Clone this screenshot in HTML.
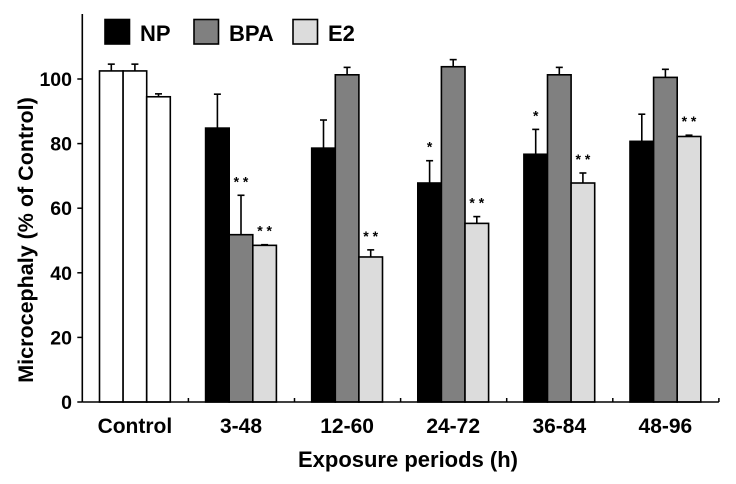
<!DOCTYPE html>
<html><head><meta charset="utf-8"><style>
body{margin:0;background:#fff}
svg text{font-family:"Liberation Sans",Arial,sans-serif;font-weight:bold;fill:#000}
</style></head><body>
<svg id="chart" width="736" height="479" viewBox="0 0 736 479" xmlns="http://www.w3.org/2000/svg"></svg>
<script>
const categories = ["Control","3-48","12-60","24-72","36-84","48-96"];
const seriesNames = ["NP","BPA","E2"];
const npValues  = [102.5, 84.8, 78.6, 67.8, 76.7, 80.7];
const bpaValues = [102.5, 51.8, 101.3, 103.8, 101.3, 100.5];
const e2Values  = [94.5, 48.5, 44.9, 55.3, 67.8, 82.2];
const npErr  = [2.1, 10.5, 8.7, 6.9, 7.7, 8.4];
const bpaErr = [2.1, 12.2, 2.3, 2.2, 2.3, 2.5];
const e2Err  = [0.9, 0.2, 2.2, 2.1, 3.1, 0.4];
const npSig  = ["", "", "", "*", "*", ""];
const bpaSig = ["", "* *", "", "", "", ""];
const e2Sig  = ["", "* *", "* *", "* *", "* *", "* *"];
const yTicks = [0,20,40,60,80,100];

const NS="http://www.w3.org/2000/svg";
const svg=document.getElementById('chart');
const x0=82.3, groupW=106.1, barOff=17.2, barW=23.6;
const yZero=402, pxPerUnit=3.23;
const yScale=v=>yZero-v*pxPerUnit;
const xBar=(g,s)=>x0+g*groupW+barOff+s*barW;
function mk(tag,attrs){const e=document.createElementNS(NS,tag);for(const k in attrs)e.setAttribute(k,attrs[k]);svg.appendChild(e);return e;}

const fills=["#000000","#808080","#dcdcdc"];
const vals=[npValues,bpaValues,e2Values], errs=[npErr,bpaErr,e2Err], sigs=[npSig,bpaSig,e2Sig];
for(let g=0;g<categories.length;g++){
  for(let s=0;s<3;s++){
    const v=vals[s][g], e=errs[s][g];
    const x=xBar(g,s), top=yScale(v), et=yScale(v+e), cx=x+barW/2;
    const er=mk('line',{x1:cx,y1:top,x2:cx,y2:et,stroke:'#000','stroke-width':1.6});
    
    
    const cap=mk('line',{x1:cx-3.5,y1:et,x2:cx+3.5,y2:et,stroke:'#000','stroke-width':1.6});
    
    
    const r=mk('rect',{x:x,y:top,width:barW,height:yZero-top,fill:g===0?'#fff':fills[s],stroke:'#000','stroke-width':1.6});
    
    
    if(sigs[s][g]){
      const t=mk('text',{x:cx,y:et-9,'text-anchor':'middle','font-size':14});
      t.textContent=sigs[s][g];
      
      
    }
  }
  const lbl=mk('text',{x:x0+g*groupW+barOff+1.5*barW,y:433,'text-anchor':'middle','font-size':21});
  lbl.textContent=categories[g];
  
  
  const tk=mk('line',{x1:x0+(g+1)*groupW,y1:yZero,x2:x0+(g+1)*groupW,y2:yZero-4,stroke:'#000','stroke-width':1.5});
  
  
}
for(const t of yTicks){
  const y=yScale(t);
  const l=mk('line',{x1:x0-5,y1:y,x2:x0,y2:y,stroke:'#000','stroke-width':1.5});
  
  
  const tx=mk('text',{x:72,y:y+7,'text-anchor':'end','font-size':19.5});
  tx.textContent=t;
  
  
}
const ya=mk('line',{x1:x0,y1:14,x2:x0,y2:yZero,stroke:'#000','stroke-width':1.6});


const xa=mk('line',{x1:x0,y1:yZero,x2:x0+6*groupW,y2:yZero,stroke:'#000','stroke-width':1.6});


const yt=mk('text',{x:0,y:0,'text-anchor':'middle','font-size':21.5,transform:'translate(33,240) rotate(-90)'});
yt.textContent='Microcephaly (% of Control)';


const xt=mk('text',{x:408,y:467,'text-anchor':'middle','font-size':22});
xt.textContent='Exposure periods (h)';


const legX=[105,194,293];
for(let s=0;s<3;s++){
  const b=mk('rect',{x:legX[s],y:19.5,width:24.5,height:24.5,fill:fills[s],stroke:'#000','stroke-width':1.6});
  
  
  const t=mk('text',{x:legX[s]+35,y:41,'font-size':22});
  t.textContent=seriesNames[s];
  
  
}
</script>
</body></html>
